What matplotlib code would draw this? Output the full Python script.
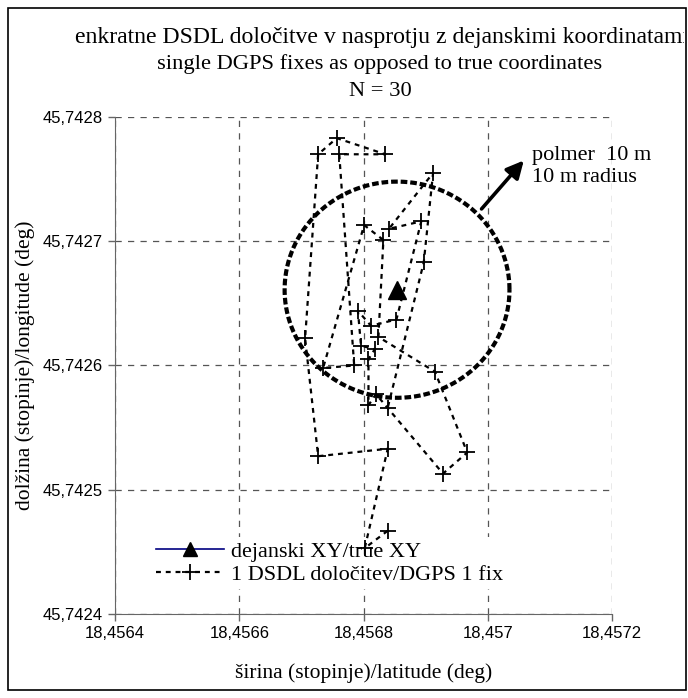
import numpy as np
import matplotlib
matplotlib.use("Agg")
import matplotlib.pyplot as plt
from matplotlib.lines import Line2D
from matplotlib.patches import Rectangle
from matplotlib.ticker import FixedLocator, FuncFormatter
from matplotlib.transforms import Bbox, TransformedBbox

# ---- data ----
title_lines = ["enkratne DSDL določitve v nasprotju z dejanskimi koordinatami",
               "single DGPS fixes as opposed to true coordinates",
               "N = 30"]
x_label = "širina (stopinje)/latitude (deg)"
y_label = "dolžina (stopinje)/longitude (deg)"
true_label = "dejanski XY/true XY"
fix_label = "1 DSDL določitev/DGPS 1 fix"
radius_label = "polmer  10 m\n10 m radius"

x_ticks = [18.4564, 18.4566, 18.4568, 18.4570, 18.4572]
y_ticks = [45.7424, 45.7425, 45.7426, 45.7427, 45.7428]

true_x = [18.456854]
true_y = [45.742661]

fix_x = [18.456839, 18.456802, 18.456839, 18.456727, 18.456706, 18.456727,
         18.456757, 18.456835, 18.456761, 18.456785, 18.456735, 18.456801,
         18.456832, 18.456824, 18.456915, 18.456967, 18.456928, 18.456820,
         18.456808, 18.456808, 18.456818, 18.456796, 18.456791, 18.456812,
         18.456853, 18.456893, 18.456841, 18.456912, 18.456897, 18.456839]
fix_y = [45.742467, 45.742453, 45.742533, 45.742527, 45.742622, 45.742770,
         45.742783, 45.742770, 45.742770, 45.742600, 45.742598, 45.742713,
         45.742701, 45.742623, 45.742595, 45.742530, 45.742513, 45.742577,
         45.742568, 45.742605, 45.742613, 45.742616, 45.742644, 45.742632,
         45.742637, 45.742716, 45.742710, 45.742755, 45.742683, 45.742566]

circle_rx = 0.000181
circle_ry = 0.000087

# ---- figure ----
W, H = 688, 698
fig = plt.figure(figsize=(W / 100, H / 100), dpi=100)
serif = ["Liberation Serif", "DejaVu Serif"]
sans = ["Liberation Sans", "DejaVu Sans"]

ax = fig.add_axes([115 / W, 1 - 614 / H, (612 - 115) / W, (614 - 117) / H])
ax.set_xlim(x_ticks[0], x_ticks[-1])
ax.set_ylim(y_ticks[0], y_ticks[-1])

ax.set_axisbelow(True)
ax.xaxis.set_major_locator(FixedLocator(x_ticks))
ax.yaxis.set_major_locator(FixedLocator(y_ticks))
fmt = FuncFormatter(lambda v, p: (("%.4f" % v).rstrip("0")).replace(".", ","))
ax.xaxis.set_major_formatter(fmt)
ax.yaxis.set_major_formatter(fmt)
ax.grid(True, color="#555555", linestyle=(0, (5, 5)), linewidth=0.9)
for lab in ax.get_xticklabels() + ax.get_yticklabels():
    lab.set_family(sans)
    lab.set_fontsize(12)
ax.tick_params(axis="both", direction="out", length=5, width=1, color="#666666")
ax.spines["top"].set_visible(False)
ax.spines["right"].set_visible(False)
ax.spines["left"].set_color("#666666")
ax.spines["bottom"].set_color("#666666")

# circle
t = np.linspace(0, 2 * np.pi, 400)
ax.plot(true_x[0] + circle_rx * np.cos(t), true_y[0] + circle_ry * np.sin(t),
        color="black", lw=3.0, linestyle=(0, (1.6, 0.7)), zorder=2)

# fixes
ax.plot(fix_x, fix_y, color="black", linestyle=(0, (2.2, 2.2)), lw=1.6,
        marker="+", markersize=11, markeredgewidth=1.3, zorder=3)
# true point
ax.plot(true_x, true_y, linestyle="none", marker="^", color="black",
        markersize=13, zorder=4)

# arrow and label
ax.annotate("", xy=(18.457058, 45.742765), xytext=(18.456990, 45.742726),
            arrowprops=dict(arrowstyle="-|>", color="black", lw=2.6,
                            mutation_scale=26, shrinkA=0, shrinkB=0), zorder=4)
ax.text(18.457072, 45.742760, radius_label, family=serif, fontsize=16,
        ha="left", va="center", linespacing=1.25)

ax.set_xlabel(x_label, family=serif, fontsize=15.5, labelpad=16)
ax.set_ylabel(y_label, family=serif, fontsize=15.5, labelpad=6)

# legend
h1 = Line2D([], [], color="#000080", lw=1.2, marker="^", markersize=10,
            markerfacecolor="black", markeredgecolor="black")
h2 = Line2D([], [], color="black", linestyle=(0, (2.2, 2.2)), lw=1.6,
            marker="+", markersize=11, markeredgewidth=1.3)
leg = ax.legend([h1, h2], [true_label, fix_label], loc="upper left",
                bbox_to_anchor=(140 / W, 1 - 526 / H), bbox_transform=fig.transFigure,
                prop={"family": serif, "size": 16}, frameon=True, framealpha=1,
                edgecolor="none", facecolor="white", handlelength=3.1,
                handletextpad=0.3, labelspacing=0.1, borderpad=0.2, fancybox=False)
leg.set_zorder(1.5)

# frame around figure
fx0, fy0, fx1, fy1 = 8 / W, 1 - 690 / H, 686 / W, 1 - 8 / H
rect = Rectangle((fx0, fy0), fx1 - fx0, fy1 - fy0, transform=fig.transFigure,
                 fill=False, edgecolor="black", lw=1.2)
fig.patches.append(rect)
clipbox = TransformedBbox(Bbox([[fx0, fy0], [fx1 - 2 / W, fy1]]), fig.transFigure)

# title
t1 = fig.text(75 / W, 1 - 37 / H, title_lines[0], family=serif, fontsize=17.1,
              ha="left", va="center")
t1.set_clip_box(clipbox)
t1.set_clip_on(True)
for i, line in enumerate(title_lines[1:], start=1):
    fig.text(380 / W, 1 - (37 + 27 * i) / H, line, family=serif, fontsize=16.2,
             ha="center", va="center")

fig.savefig("out.png", dpi=100)
